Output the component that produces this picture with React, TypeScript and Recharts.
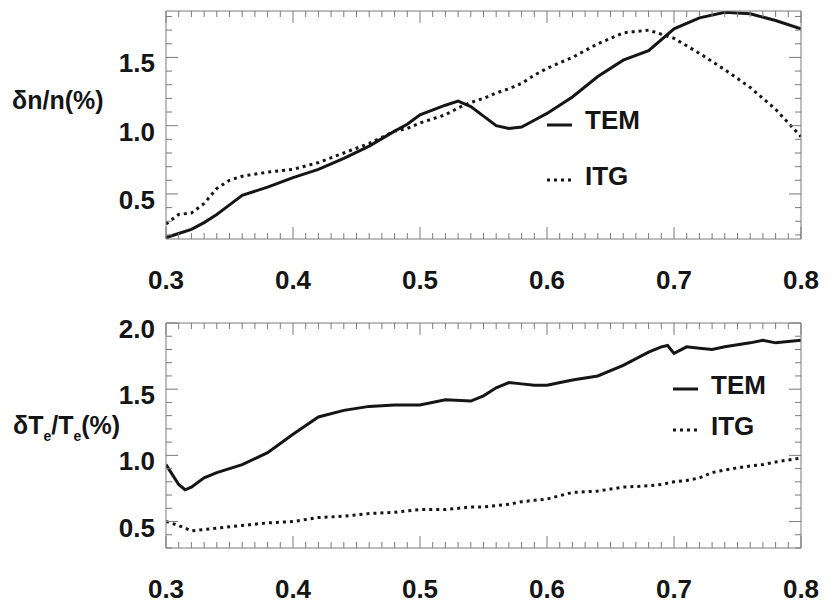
import { Legend, Line, LineChart, XAxis, YAxis } from "recharts";

// radius (r/a) samples and amplitudes
const TOP_X = [0.3, 0.31, 0.32, 0.33, 0.34, 0.35, 0.36, 0.38, 0.4, 0.42, 0.44, 0.46, 0.48, 0.49, 0.5, 0.52, 0.53, 0.54, 0.55, 0.56, 0.57, 0.58, 0.59, 0.6, 0.62, 0.64, 0.66, 0.68, 0.7, 0.72, 0.74, 0.76, 0.78, 0.8];
const TOP_TEM = [0.18, 0.21, 0.24, 0.29, 0.35, 0.42, 0.49, 0.55, 0.62, 0.68, 0.76, 0.85, 0.96, 1.01, 1.08, 1.15, 1.18, 1.14, 1.07, 1.0, 0.98, 0.99, 1.04, 1.09, 1.21, 1.36, 1.48, 1.55, 1.71, 1.79, 1.83, 1.82, 1.77, 1.71];
const TOP_ITG = [0.28, 0.35, 0.36, 0.43, 0.54, 0.6, 0.63, 0.66, 0.68, 0.73, 0.8, 0.87, 0.96, 0.98, 1.02, 1.08, 1.13, 1.17, 1.2, 1.24, 1.27, 1.31, 1.37, 1.42, 1.5, 1.6, 1.68, 1.7, 1.64, 1.53, 1.41, 1.28, 1.12, 0.92];

const BOT_X = [0.3, 0.31, 0.315, 0.32, 0.33, 0.34, 0.36, 0.38, 0.4, 0.42, 0.44, 0.46, 0.48, 0.5, 0.52, 0.54, 0.55, 0.56, 0.57, 0.58, 0.59, 0.6, 0.62, 0.64, 0.66, 0.68, 0.69, 0.695, 0.7, 0.71, 0.72, 0.73, 0.74, 0.76, 0.77, 0.78, 0.8];
const BOT_TEM = [0.93, 0.78, 0.74, 0.76, 0.83, 0.87, 0.93, 1.02, 1.16, 1.29, 1.34, 1.37, 1.38, 1.38, 1.42, 1.41, 1.45, 1.51, 1.55, 1.54, 1.53, 1.53, 1.57, 1.6, 1.68, 1.78, 1.82, 1.83, 1.77, 1.82, 1.81, 1.8, 1.82, 1.85, 1.87, 1.85, 1.87];
const BOT_ITG = [0.5, 0.47, 0.45, 0.43, 0.44, 0.45, 0.47, 0.49, 0.5, 0.53, 0.54, 0.56, 0.57, 0.59, 0.59, 0.61, 0.61, 0.62, 0.63, 0.65, 0.66, 0.67, 0.72, 0.73, 0.76, 0.77, 0.78, 0.79, 0.8, 0.81, 0.83, 0.87, 0.89, 0.92, 0.93, 0.95, 0.98];

const X_MAJOR = [0.3, 0.4, 0.5, 0.6, 0.7, 0.8];
const X_TICKS = Array.from({ length: 51 }, (_, i) => Math.round((0.3 + i * 0.01) * 100) / 100);
const TOP_Y_MAJOR = [0.5, 1.0, 1.5];
const TOP_Y_TICKS = [0.2, 0.3, 0.4, 0.5, 0.6, 0.7, 0.8, 0.9, 1.0, 1.1, 1.2, 1.3, 1.4, 1.5, 1.6, 1.7, 1.8];
const BOT_Y_MAJOR = [0.5, 1.0, 1.5, 2.0];
const BOT_Y_TICKS = [0.3, 0.4, 0.5, 0.6, 0.7, 0.8, 0.9, 1.0, 1.1, 1.2, 1.3, 1.4, 1.5, 1.6, 1.7, 1.8, 1.9, 2.0];

const SERIES = ["TEM", "ITG"];
const DASH: Record<string, string | undefined> = { TEM: undefined, ITG: "3 4" };

const topData = TOP_X.map((x, i) => ({ x, TEM: TOP_TEM[i], ITG: TOP_ITG[i] }));
const botData = BOT_X.map((x, i) => ({ x, TEM: BOT_TEM[i], ITG: BOT_ITG[i] }));

const FONT = "'Liberation Sans', Arial, Helvetica, sans-serif";
const INK = "#151515";
const FRAME = "#7a7a7a";

const isMajor = (v: number, majors: number[]) => majors.some((m) => Math.abs(m - v) < 1e-6);

// IDL-style inward ticks; labels only on bottom/left
function makeTick(side: "bottom" | "top" | "left" | "right", majors: number[]) {
  return (props: any) => {
    const { x, y, payload } = props;
    const v = payload.value as number;
    const major = isMajor(v, majors);
    const len = major ? 12 : 6;
    let line = null;
    if (side === "bottom") line = <line x1={x} y1={y} x2={x} y2={y - len} stroke={FRAME} />;
    if (side === "top") line = <line x1={x} y1={y} x2={x} y2={y + len} stroke={FRAME} />;
    if (side === "left") line = <line x1={x} y1={y} x2={x + len} y2={y} stroke={FRAME} />;
    if (side === "right") line = <line x1={x} y1={y} x2={x - len} y2={y} stroke={FRAME} />;
    let label = null;
    if (major && side === "bottom") {
      label = (
        <text x={x} y={y + 41} textAnchor="middle" dominantBaseline="central" fontFamily={FONT} fontWeight="bold" fontSize={26} fill={INK}>
          {v.toFixed(1)}
        </text>
      );
    }
    if (major && side === "left") {
      label = (
        <text x={x - 11} y={y + 6} textAnchor="end" dominantBaseline="central" fontFamily={FONT} fontWeight="bold" fontSize={26} fill={INK}>
          {v.toFixed(1)}
        </text>
      );
    }
    return (
      <g>
        {line}
        {label}
      </g>
    );
  };
}

type Row = { textY: number; lineY: number };

function LegendBox({ rows }: { rows: Row[] }) {
  return (
    <svg width={160} height={rows[rows.length - 1].textY + 24} style={{ overflow: "visible", display: "block" }}>
      {SERIES.map((name, i) => (
        <g key={name}>
          <line x1={7} x2={32} y1={rows[i].lineY} y2={rows[i].lineY} stroke={INK} strokeWidth={3} strokeDasharray={DASH[name]} />
          <text x={45} y={rows[i].textY} dominantBaseline="central" fontFamily={FONT} fontWeight="bold" fontSize={26} fill={INK}>
            {name}
          </text>
        </g>
      ))}
    </svg>
  );
}

type PanelProps = {
  data: { x: number; TEM: number; ITG: number }[];
  domain: [number, number];
  yTicks: number[];
  yMajor: number[];
  top: number;
  marginTop: number;
  bottomH: number;
  legendPos: { left: number; top: number };
  legendRows: Row[];
};

function Panel({ data, domain, yTicks, yMajor, top, marginTop, bottomH, legendPos, legendRows }: PanelProps) {
  return (
    <div style={{ position: "absolute", left: 0, top }}>
      <LineChart width={834} height={303} data={data} margin={{ top: marginTop - 1, right: 32, bottom: 0, left: 0 }}>
        <XAxis xAxisId="b" type="number" dataKey="x" domain={[0.3, 0.8]} allowDataOverflow ticks={X_TICKS} interval={0}
          tickSize={0} tickMargin={0} tickLine={false} height={bottomH} axisLine={{ stroke: FRAME }} tick={makeTick("bottom", X_MAJOR)} />
        <XAxis xAxisId="t" orientation="top" type="number" dataKey="x" domain={[0.3, 0.8]} allowDataOverflow ticks={X_TICKS} interval={0}
          tickSize={0} tickMargin={0} tickLine={false} height={1} axisLine={{ stroke: FRAME }} tick={makeTick("top", X_MAJOR)} />
        <YAxis yAxisId="l" type="number" domain={domain} allowDataOverflow ticks={yTicks} interval={0}
          tickSize={0} tickMargin={0} tickLine={false} width={166} axisLine={{ stroke: FRAME }} tick={makeTick("left", yMajor)} />
        <YAxis yAxisId="r" orientation="right" type="number" domain={domain} allowDataOverflow ticks={yTicks} interval={0}
          tickSize={0} tickMargin={0} tickLine={false} width={1} axisLine={{ stroke: FRAME }} tick={makeTick("right", yMajor)} />
        <Legend layout="horizontal" verticalAlign="middle" align="center"
          wrapperStyle={{ position: "absolute", left: legendPos.left, top: legendPos.top, width: 160 }}
          content={() => <LegendBox rows={legendRows} />} />
        {SERIES.map((name) => (
          <Line key={name} xAxisId="b" yAxisId="l" dataKey={name} type="linear" stroke={INK} strokeWidth={3}
            strokeDasharray={DASH[name]} dot={false} activeDot={false} isAnimationActive={false} />
        ))}
      </LineChart>
    </div>
  );
}

const titleStyle = {
  position: "absolute" as const,
  fontFamily: FONT,
  fontWeight: "bold" as const,
  fontSize: 25,
  lineHeight: "25px",
  color: INK,
  whiteSpace: "nowrap" as const,
};

const subStyle = { fontSize: 14, position: "relative" as const, top: 7 };

export default function App() {
  return (
    <div style={{ position: "absolute", left: 0, top: 0, width: 834, height: 606, background: "#fff", overflow: "hidden" }}>
      <Panel data={topData} domain={[0.17, 1.84]} yTicks={TOP_Y_TICKS} yMajor={TOP_Y_MAJOR} top={0} marginTop={11} bottomH={64}
        legendPos={{ left: 540, top: 100 }} legendRows={[{ textY: 20, lineY: 25 }, { textY: 76, lineY: 80 }]} />
      <Panel data={botData} domain={[0.3, 2.0]} yTicks={BOT_Y_TICKS} yMajor={BOT_Y_MAJOR} top={303} marginTop={20} bottomH={58}
        legendPos={{ left: 666, top: 70 }} legendRows={[{ textY: 12, lineY: 16 }, { textY: 53, lineY: 57 }]} />
      <div style={{ ...titleStyle, left: 12, top: 88 }}>δn/n(%)</div>
      <div style={{ ...titleStyle, left: 13, top: 413 }}>
        δT<span style={subStyle}>e</span>/T<span style={subStyle}>e</span>(%)
      </div>
    </div>
  );
}
